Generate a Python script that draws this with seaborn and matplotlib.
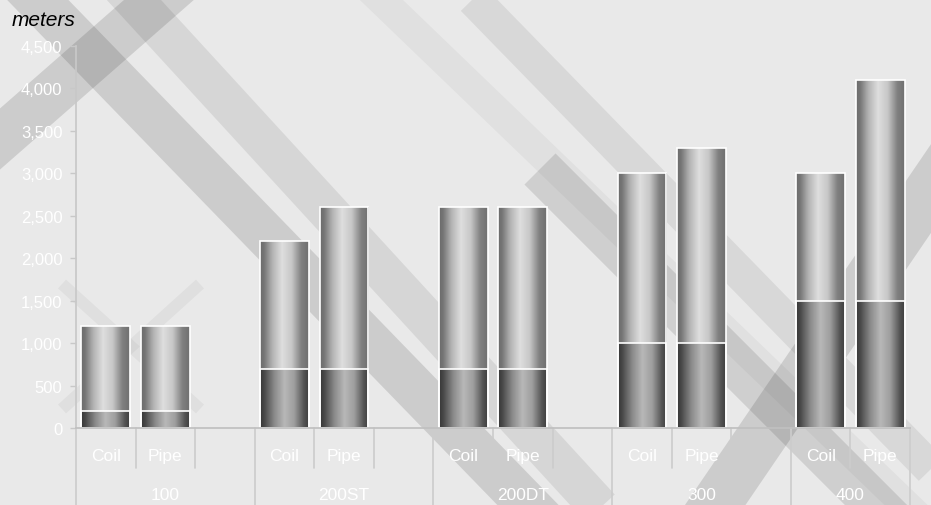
import numpy as np
import matplotlib.pyplot as plt
import matplotlib.transforms as mtransforms
import pandas as pd
import seaborn as sns
from matplotlib.patches import Polygon
from matplotlib.ticker import FuncFormatter

# data
groups = ["100", "200ST", "200DT", "300", "400"]
kinds = ["Coil", "Pipe"]
coil_total = [1200, 2200, 2600, 3000, 3000]
pipe_total = [1200, 2600, 2600, 3300, 4100]
coil_base = [200, 700, 700, 1000, 1500]
pipe_base = [200, 700, 700, 1000, 1500]
y_ticks = [0, 500, 1000, 1500, 2000, 2500, 3000, 3500, 4000, 4500]

W, H = 931, 506
BG = "#e9e9e9"

sns.set_theme(style="white")
plt.rcParams["font.family"] = ["Liberation Sans Narrow", "Liberation Sans", "DejaVu Sans"]

rows = []
for i, g in enumerate(groups):
    for k, kind in enumerate(kinds):
        total = coil_total[i] if kind == "Coil" else pipe_total[i]
        base = coil_base[i] if kind == "Coil" else pipe_base[i]
        rows.append({"group": g, "kind": kind, "slot": 3 * i + k, "total": total, "base": base})
df = pd.DataFrame(rows)

fig = plt.figure(figsize=(W / 100, H / 100), dpi=100, facecolor=BG)
ax = fig.add_axes([76 / W, 77 / H, 834 / W, 382 / H])
ax.set_facecolor("none")


def band(x0, y0, x1, y1, w, alpha):
    # decorative diagonal stripe, given in pixel coords (y down)
    d = np.array([x1 - x0, y1 - y0], float)
    d /= np.hypot(*d)
    n = np.array([-d[1], d[0]]) * w / 2
    p0, p1 = np.array([x0, y0], float), np.array([x1, y1], float)
    pts = np.array([p0 + n, p1 + n, p1 - n, p0 - n])
    pts[:, 0] /= W
    pts[:, 1] = 1 - pts[:, 1] / H
    fig.add_artist(Polygon(pts, closed=True, transform=fig.transFigure,
                           facecolor="black", alpha=alpha, edgecolor="none", zorder=-5))


band(0, -38, 560, 539, 44, 0.12)
band(100, -36, 600, 509, 40, 0.08)
band(200, -35, -40, 175, 46, 0.12)
band(370, -10, 931, 530, 30, 0.035)
band(473, 0, 931, 470, 34, 0.07)
band(540, 170, 900, 530, 44, 0.11)
band(960, 147, 690, 543, 50, 0.12)
band(62, 285, 200, 410, 12, 0.04)
band(200, 285, 62, 410, 12, 0.04)

sns.barplot(data=df, x="slot", y="total", native_scale=True, width=0.82,
            color="white", errorbar=None, ax=ax)
top_patches = list(ax.patches)
sns.barplot(data=df, x="slot", y="base", native_scale=True, width=0.82,
            color="white", errorbar=None, ax=ax)
base_patches = list(ax.patches)[len(top_patches):]

t = np.linspace(0, 1, 80)
light = np.interp(t, [0, 0.08, 0.25, 0.45, 0.65, 0.85, 1], [0.42, 0.46, 0.70, 0.87, 0.78, 0.50, 0.44])
dark = np.interp(t, [0, 0.08, 0.3, 0.5, 0.7, 0.9, 1], [0.22, 0.28, 0.55, 0.72, 0.62, 0.33, 0.25])

for patches, prof, z in [(top_patches, light, 2), (base_patches, dark, 3)]:
    for p in patches:
        x0, y0 = p.get_x(), p.get_y()
        w, h = p.get_width(), p.get_height()
        im = ax.imshow(prof[np.newaxis, :], extent=(x0, x0 + w, y0, y0 + h), aspect="auto",
                       cmap="gray", vmin=0, vmax=1, interpolation="bilinear", zorder=z)
        im.set_clip_path(p)
        p.set_facecolor("none")
        p.set_edgecolor("white")
        p.set_linewidth(1.2)
        p.set_zorder(z + 2)

ax.set_xlim(-0.5, 13.5)
ax.set_ylim(0, 4500)
ax.set_xticks([])
ax.set_xlabel("")
ax.set_ylabel("")
ax.set_yticks(y_ticks)
ax.yaxis.set_major_formatter(FuncFormatter(lambda v, _: f"{int(v):,}"))
ax.tick_params(axis="y", left=True, length=4.3, width=1, color="#c8c8c8",
               labelcolor="white", labelsize=12, pad=5.5)
sns.despine(ax=ax, top=True, right=True)
ax.spines["left"].set_color("#c8c8c8")
ax.spines["bottom"].set_color("#c0c0c0")
ax.spines["bottom"].set_zorder(10)

trans = mtransforms.blended_transform_factory(ax.transData, ax.transAxes)
long_lines = [-0.5, 2.5, 5.5, 8.5, 11.5, 13.5]
short_lines = [0.5, 1.5, 3.5, 4.5, 6.5, 7.5, 9.5, 10.5, 12.5]
for x in long_lines:
    ax.plot([x, x], [0, -0.21], transform=trans, clip_on=False, color="#cccccc", lw=1.2)
for x in short_lines:
    ax.plot([x, x], [0, -0.105], transform=trans, clip_on=False, color="#cccccc", lw=1.2)

for _, r in df.iterrows():
    ax.text(r["slot"], -0.0707, r["kind"], transform=trans, ha="center", va="center",
            color="white", fontsize=12.5)
for i, g in enumerate(groups):
    start = 3 * i - 0.5
    end = min(3 * i + 2.5, 13.5)
    ax.text((start + end) / 2, -0.173, g, transform=trans, ha="center", va="center",
            color="white", fontsize=12.5)

fig.text(12 / W, 1 - 26 / H, "meters", style="italic", fontsize=15, color="black",
         family=["Liberation Sans", "DejaVu Sans"], va="baseline")

fig.savefig("out.png", dpi=100, facecolor=BG)
